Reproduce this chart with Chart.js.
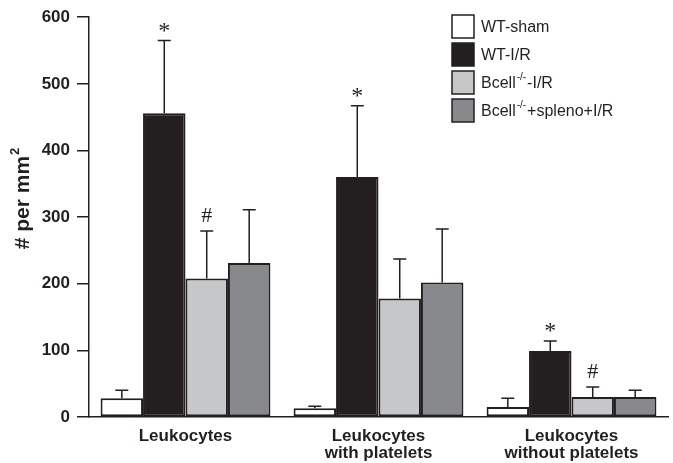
<!DOCTYPE html>
<html>
<head>
<meta charset="utf-8">
<script src="https://cdn.jsdelivr.net/npm/chart.js@4"></script>
<style>
  html, body { margin: 0; padding: 0; background: #fff; }
  #wrap { width: 673px; height: 463px; }
</style>
</head>
<body>
<div id="wrap"><canvas id="chart"></canvas></div>
<script>
const categories = [['Leukocytes'], ['Leukocytes', 'with platelets'], ['Leukocytes', 'without platelets']];
const seriesNames = ['WT-sham', 'WT-I/R', 'Bcell-I/R', 'Bcell+spleno+I/R'];
const wtSham = [28, 13, 15];
const wtIR = [456, 360, 99];
const bcellIR = [208, 178, 30];
const bcellSpleno = [231, 202, 30];
const wtShamErr = [12, 3, 13];
const wtIRErr = [109, 107, 15];
const bcellIRErr = [71, 59, 15];
const bcellSplenoErr = [80, 80, 10];
// significance marks per series, per category
const marks = [['', '', ''], ['*', '*', '*'], ['#', '', '#'], ['', '', '']];
const yTicks = [0, 100, 200, 300, 400, 500, 600];

const ink = '#231f20';
const fills = ['#ffffff', '#231f20', '#c6c7c9', '#88898c'];
const errs = [wtShamErr, wtIRErr, bcellIRErr, bcellSplenoErr];
const font = '"Liberation Sans", Arial, sans-serif';

const extras = {
    id: 'extras',
    afterDatasetsDraw(chart) {
        const ctx = chart.ctx;
        const y = chart.scales.y;
        ctx.save();
        ctx.strokeStyle = ink;
        ctx.fillStyle = ink;
        ctx.lineWidth = 1.5;
        chart.data.datasets.forEach((ds, i) => {
            const meta = chart.getDatasetMeta(i);
            meta.data.forEach((bar, j) => {
                const top = y.getPixelForValue(ds.data[j] + errs[i][j]);
                ctx.beginPath();
                ctx.moveTo(bar.x, bar.y);
                ctx.lineTo(bar.x, top);
                ctx.moveTo(bar.x - 6.5, top);
                ctx.lineTo(bar.x + 6.5, top);
                ctx.stroke();
                const m = marks[i][j];
                if (m) {
                    ctx.textAlign = 'center';
                    ctx.textBaseline = 'alphabetic';
                    if (m === '*') {
                        ctx.font = '24px "Liberation Serif", serif';
                        ctx.fillText(m, bar.x, top - 3);
                    } else {
                        ctx.font = '22px "Liberation Serif", serif';
                        ctx.fillText(m, bar.x, top - 9);
                    }
                }
            });
        });

        // legend
        const lx = 452, ly0 = 15, step = 28, bw = 22, bh = 23;
        ctx.textAlign = 'left';
        ctx.textBaseline = 'middle';
        fills.forEach((c, i) => {
            const yy = ly0 + i * step;
            ctx.fillStyle = c;
            ctx.fillRect(lx, yy, bw, bh);
            ctx.strokeStyle = ink;
            ctx.lineWidth = 1.5;
            ctx.strokeRect(lx, yy, bw, bh);
            ctx.fillStyle = ink;
            const ty = yy + bh / 2 + 1;
            let tx = lx + bw + 7;
            ctx.font = '16px ' + font;
            if (i < 2) {
                ctx.fillText(seriesNames[i], tx, ty);
            } else {
                ctx.fillText('Bcell', tx, ty);
                tx += ctx.measureText('Bcell').width + 1;
                ctx.font = '10px ' + font;
                ctx.fillText('-/-', tx, ty - 6);
                tx += ctx.measureText('-/-').width + 1;
                ctx.font = '16px ' + font;
                ctx.fillText(i === 2 ? '-I/R' : '+spleno+I/R', tx, ty);
            }
        });

        // y-axis title with superscript
        ctx.save();
        ctx.translate(23, 199);
        ctx.rotate(-Math.PI / 2);
        ctx.textAlign = 'left';
        ctx.textBaseline = 'middle';
        ctx.font = 'bold 21px ' + font;
        const t = '# per mm';
        const w = ctx.measureText(t).width;
        ctx.font = 'bold 13px ' + font;
        const w2 = ctx.measureText('2').width;
        ctx.font = 'bold 21px ' + font;
        ctx.fillText(t, -(w + w2) / 2, 0);
        ctx.font = 'bold 13px ' + font;
        ctx.fillText('2', -(w + w2) / 2 + w + 1, -8);
        ctx.restore();
        ctx.restore();
    }
};

new Chart(document.getElementById('chart'), {
    type: 'bar',
    data: {
        labels: categories,
        datasets: [wtSham, wtIR, bcellIR, bcellSpleno].map((d, i) => ({
            label: seriesNames[i],
            data: d,
            backgroundColor: fills[i],
            borderColor: ink,
            borderWidth: 2,
            borderSkipped: false,
            categoryPercentage: 0.88,
            barPercentage: 1.0
        }))
    },
    options: {
        responsive: true,
        maintainAspectRatio: false,
        animation: false,
        layout: { padding: { top: 16, right: 5, left: 0, bottom: 0 } },
        plugins: { legend: { display: false }, tooltip: { enabled: false } },
        scales: {
            x: {
                afterFit(axis) { axis.height = 46; },
                grid: { display: false },
                border: { display: true, color: ink, width: 1.5 },
                ticks: { color: ink, font: { family: font, size: 17, weight: 'bold', lineHeight: 1.05 }, padding: 2, maxRotation: 0 }
            },
            y: {
                min: 0,
                max: 600,
                afterFit(axis) { axis.width = 89; },
                afterBuildTicks(axis) { axis.ticks = yTicks.map(v => ({ value: v })); },
                grid: { drawOnChartArea: false, drawTicks: true, tickLength: 12, color: ink, lineWidth: 1.5 },
                border: { display: true, color: ink, width: 1.5 },
                ticks: { color: ink, font: { family: font, size: 17, weight: 'bold' }, padding: 7 }
            }
        }
    },
    plugins: [extras]
});
</script>
</body>
</html>
